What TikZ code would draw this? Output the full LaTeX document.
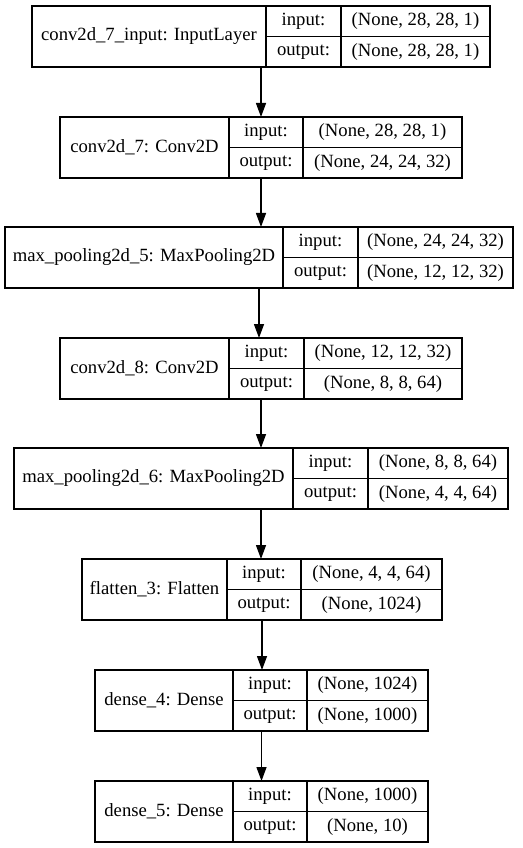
\documentclass[tikz,border=0pt]{standalone}
\usepackage{fontspec}
\setmainfont{Liberation Serif}
\newfontfamily\layerfont{Liberation Serif}
\usepackage{tikz}
\usetikzlibrary{arrows.meta, calc}

% one pixel of the original
\newcommand{\pxu}{0.75pt}

% layer record: id, top, left, name width, port width, shape width, name, input, output
\newcommand{\kerasbox}[9]{%
  \node[cell, minimum width={#4*\pxu}, minimum height={61*\pxu}] (#1) at (#3,#2) {#7};
  \node[cell, minimum width={#5*\pxu}, minimum height={30.5*\pxu}] (#1-in) at (#1.north east) {input:};
  \node[cell, minimum width={#6*\pxu}, minimum height={30.5*\pxu}] (#1-inv) at (#1-in.north east) {#8};
  \node[cell, minimum width={#5*\pxu}, minimum height={30.5*\pxu}] (#1-out) at (#1-in.south west) {output:};
  \node[cell, minimum width={#6*\pxu}, minimum height={30.5*\pxu}] (#1-outv) at (#1-inv.south west) {#9};
  \coordinate (#1-top) at ($(#1.north west)!.5!(#1-inv.north east)$);
  \coordinate (#1-bot) at ($(#1.south west)!.5!(#1-outv.south east)$);
}

\begin{document}
\begin{tikzpicture}[x=\pxu, y=-\pxu, line width=1pt,
	cell/.style={draw, anchor=north west, inner sep=0pt, outer sep=0pt,
		font=\layerfont\fontsize{14}{16}\selectfont},
	arr/.style={-{Triangle[length=10.5pt, width=7.5pt]}}]
	\useasboundingbox (0,0) rectangle (523,848);
	
	\kerasbox{inlayer}{6}{32}{234}{75}{149}{conv2d\_7\_input: InputLayer}{(None, 28, 28, 1)}{(None, 28, 28, 1)}
	\kerasbox{conv7}{117}{60}{169}{74}{159}{conv2d\_7: Conv2D}{(None, 28, 28, 1)}{(None, 24, 24, 32)}
	\kerasbox{pool5}{227}{5}{278}{75}{155}{max\_pooling2d\_5: MaxPooling2D}{(None, 24, 24, 32)}{(None, 12, 12, 32)}
	\kerasbox{conv8}{338}{60}{169}{75}{158}{conv2d\_8: Conv2D}{(None, 12, 12, 32)}{(None, 8, 8, 64)}
	\kerasbox{pool6}{448}{14}{279}{75}{140}{max\_pooling2d\_6: MaxPooling2D}{(None, 8, 8, 64)}{(None, 4, 4, 64)}
	\kerasbox{flat3}{559}{82}{145}{74}{141}{flatten\_3: Flatten}{(None, 4, 4, 64)}{(None, 1024)}
	\kerasbox{dense4}{670}{95}{138}{74}{121}{dense\_4: Dense}{(None, 1024)}{(None, 1000)}
	\kerasbox{dense5}{781}{95}{138}{74}{121}{dense\_5: Dense}{(None, 1000)}{(None, 10)}
	
	% Edges
	\foreach \a/\b in {inlayer/conv7, conv7/pool5, pool5/conv8, conv8/pool6,
		pool6/flat3, flat3/dense4, dense4/dense5}
		\draw[arr] (\a-bot) -- (\a-bot |- \b-top);
\end{tikzpicture}
\end{document}
